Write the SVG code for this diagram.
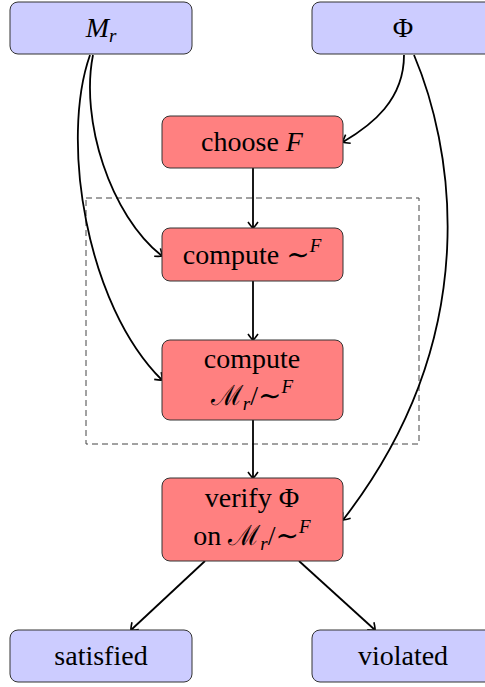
<svg xmlns="http://www.w3.org/2000/svg" width="485" height="687" viewBox="0 0 485 687">
<style>
.blue{fill:#ccccff;stroke:#333;stroke-width:1}
.red{fill:#ff8080;stroke:#333;stroke-width:1}
text{font-family:'Liberation Serif','DejaVu Serif',serif;font-size:28px;fill:#000;text-anchor:middle}
.it{font-style:italic}
.sub{font-style:italic;font-size:19px}
.e{fill:none;stroke:#000;stroke-width:1.8;marker-end:url(#arr)}
</style>
<defs>
<marker id="arr" viewBox="-8 -6 10 12" markerWidth="10" markerHeight="12" refX="0" refY="0" orient="auto" markerUnits="userSpaceOnUse">
<path d="M-6,-5 Q-1,-1.5 0,0 Q-1,1.5 -6,5" fill="none" stroke="#000" stroke-width="1.6"/>
</marker>
</defs>
<rect x="86" y="198" width="333" height="246" fill="none" stroke="#444" stroke-width="1" stroke-dasharray="6,4"/>
<g id="connectors">
<path class="e" d="M404,55 C404,100 372,125 343,142"/>
<path class="e" d="M414,55 C450,140 490,330 343,520"/>
<path class="e" d="M93,55 C80,120 110,215 162,256"/>
<path class="e" d="M90,55 C60,140 86,305 162,380"/>
<path class="e" d="M253,168 V228"/>
<path class="e" d="M253,281 V340"/>
<path class="e" d="M253,420 V478"/>
<path class="e" d="M205,561 L131,630"/>
<path class="e" d="M299,561 L375,630"/>
</g>
<g font-family="Liberation Serif, DejaVu Serif, serif">
<g id="Mr"><rect class="blue" x="10" y="2" width="182" height="52" rx="8"/><text x="101" y="37"><tspan class="it">M</tspan><tspan class="sub" dy="5">r</tspan></text></g>
<g id="Phi"><rect class="blue" x="312" y="2" width="182" height="52" rx="8"/><text x="403" y="37">Φ</text></g>
<g id="chooseF"><rect class="red" x="162" y="116" width="181" height="52" rx="8"/><text x="252" y="151">choose <tspan class="it">F</tspan></text></g>
<g id="computeSim"><rect class="red" x="162" y="228" width="181" height="53" rx="8"/><text x="252" y="264">compute ∼<tspan class="sub" dy="-12">F</tspan></text></g>
<g id="computeQuot"><rect class="red" x="162" y="340" width="181" height="80" rx="8"/><text x="252" y="368">compute</text><text x="252" y="405">ℳ<tspan class="sub" dy="5">r</tspan><tspan dy="-5">/∼</tspan><tspan class="sub" dy="-12">F</tspan></text></g>
<g id="verify"><rect class="red" x="162" y="478" width="181" height="83" rx="8"/><text x="252" y="507">verify Φ</text><text x="252" y="545">on ℳ<tspan class="sub" dy="5">r</tspan><tspan dy="-5">/∼</tspan><tspan class="sub" dy="-12">F</tspan></text></g>
<g id="satisfied"><rect class="blue" x="10" y="630" width="182" height="52" rx="8"/><text x="101" y="665">satisfied</text></g>
<g id="violated"><rect class="blue" x="312" y="630" width="182" height="52" rx="8"/><text x="403" y="665">violated</text></g>
</g>
</svg>
